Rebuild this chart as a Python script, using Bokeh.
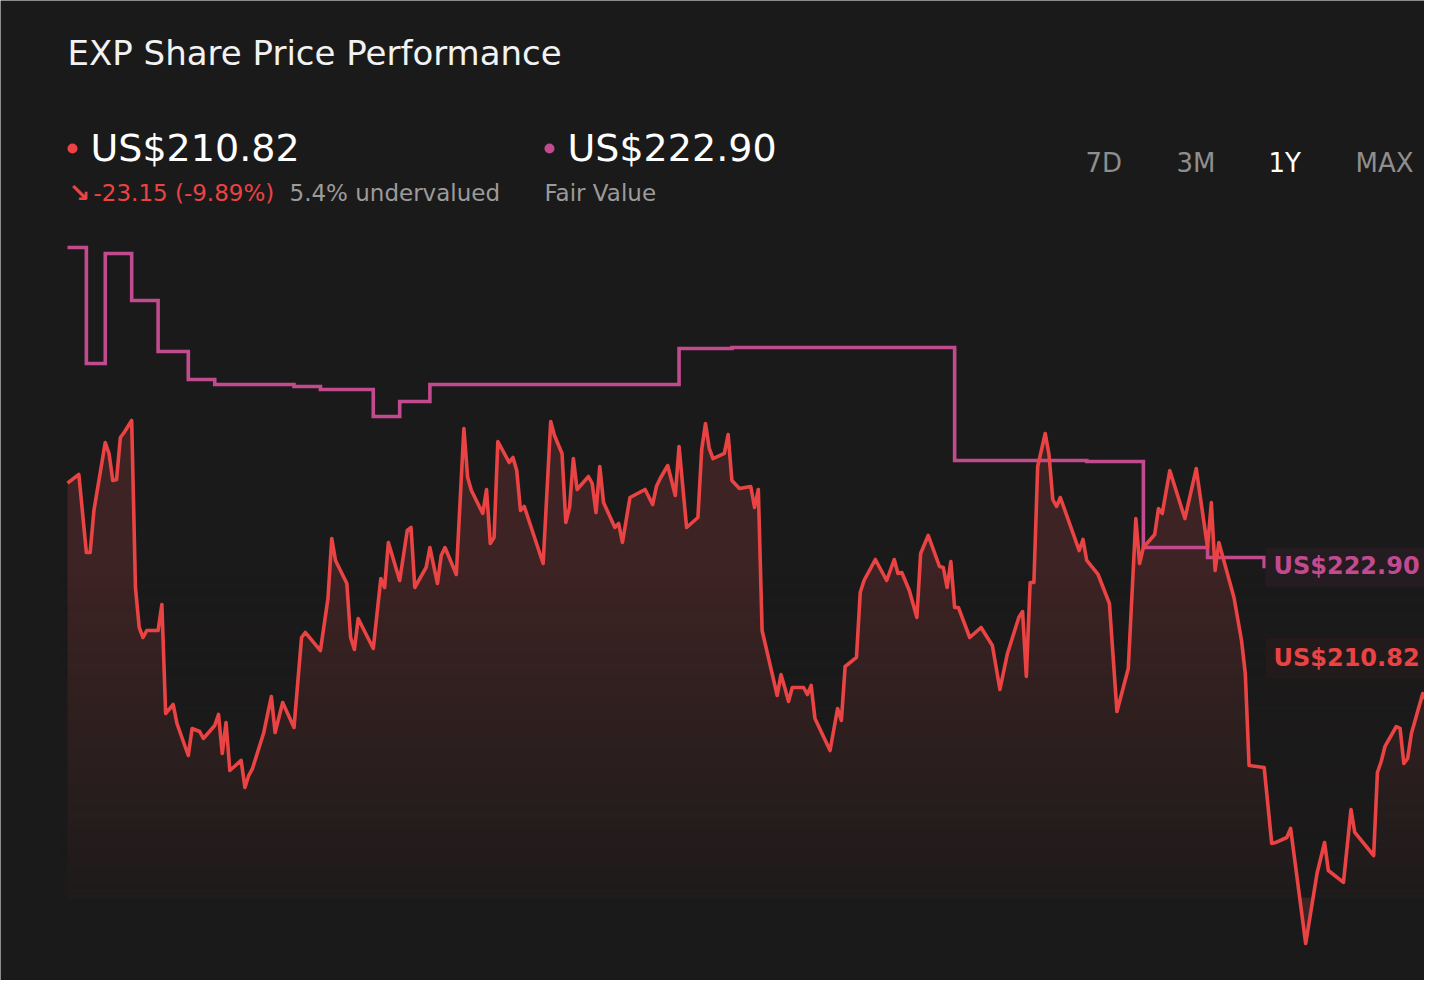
import numpy as np
from bokeh.plotting import figure
from bokeh.models import Label, Range1d
from bokeh.embed import file_html
from bokeh.resources import INLINE

# ---------------- data ----------------
price_days = [0, 3, 5, 6, 7, 10, 11, 12, 13, 14, 15, 17, 18, 19, 20, 21, 24, 25, 26, 28, 29, 32, 33, 35, 36,
              39, 40, 41, 42, 43, 46, 47, 48, 49, 52, 54, 55, 57, 60, 62, 63, 67, 69, 70, 71, 74, 75, 76, 77,
              81, 83, 84, 85, 88, 90, 91, 92, 95, 96, 98, 99, 100, 103, 105, 106, 107, 110, 111, 112, 113,
              114, 117, 118, 119, 120, 121, 126, 128, 129, 131, 132, 133, 134, 135, 138, 139, 140, 141, 142,
              145, 146, 147, 149, 150, 153, 155, 156, 157, 159, 161, 162, 164, 167, 168, 169, 170, 171, 174,
              175, 176, 178, 181, 182, 183, 184, 188, 189, 190, 191, 192, 195, 196, 197, 198, 202, 204, 205,
              206, 209, 210, 211, 214, 217, 219, 220, 221, 223, 225, 226, 228, 231, 232, 233, 234, 235, 236,
              239, 242, 245, 247, 249, 252, 253, 254, 255, 256, 257, 259, 260, 261, 262, 263, 268, 269, 270,
              273, 276, 278, 281, 283, 284, 285, 288, 289, 290, 292, 296, 299, 302, 303, 304, 305, 309, 311,
              312, 313, 317, 319, 320, 323, 324, 328, 331, 333, 334, 338, 340, 341, 346, 347, 348, 349, 352,
              353, 354, 355, 356, 359, 361, 362, 365]
price_vals = [233.97, 235.12, 224.76, 224.76, 230.34, 239.37, 237.91, 234.32, 234.45, 240.03, 240.70, 242.29,
              220.11, 214.80, 213.47, 214.40, 214.40, 217.85, 203.38, 204.57, 202.05, 197.80, 201.39, 200.99,
              200.06, 201.78, 203.25, 198.07, 202.18, 195.81, 197.14, 193.55, 195.14, 196.07, 200.86, 205.64,
              200.86, 204.84, 201.52, 213.47, 214.14, 211.74, 218.65, 226.62, 223.70, 220.64, 213.47, 211.88,
              215.99, 212.01, 221.31, 220.11, 226.09, 221.04, 227.68, 228.08, 220.11, 222.77, 225.42, 220.64,
              224.36, 225.42, 221.84, 241.23, 234.72, 232.99, 229.94, 233.13, 225.95, 226.75, 239.50, 236.71,
              237.38, 235.65, 230.34, 230.87, 223.30, 242.16, 240.30, 237.91, 228.74, 230.74, 237.24, 233.13,
              234.85, 233.92, 230.07, 236.18, 231.40, 228.08, 228.61, 226.09, 232.06, 232.33, 233.13, 231.13,
              233.52, 234.59, 236.31, 232.33, 238.84, 228.08, 229.41, 238.44, 241.89, 238.57, 237.24, 237.91,
              240.43, 234.32, 233.26, 233.52, 230.74, 233.13, 214.40, 205.77, 208.56, 206.83, 204.97, 206.83,
              206.83, 205.90, 207.10, 202.71, 198.46, 204.04, 202.45, 209.62, 210.82, 219.45, 221.04, 223.83,
              221.04, 223.83, 221.97, 222.10, 219.71, 216.13, 224.63, 227.02, 222.90, 222.77, 220.11, 223.56,
              217.46, 217.46, 213.47, 214.80, 212.41, 206.57, 211.35, 216.13, 216.92, 208.29, 220.78, 220.78,
              236.18, 240.56, 237.77, 231.80, 230.87, 232.06, 225.02, 226.49, 223.70, 221.84, 217.99, 203.64,
              209.35, 229.27, 223.30, 225.42, 227.15, 230.60, 229.94, 235.65, 229.27, 235.91, 225.42, 231.40,
              222.37, 226.09, 218.78, 213.07, 208.69, 196.47, 196.21, 186.11, 186.24, 186.91, 188.11, 172.83,
              182.13, 186.24, 182.53, 180.94, 190.63, 187.58, 184.52, 195.54, 197.00, 199.00, 201.65, 201.39,
              196.74, 197.40, 200.72, 206.03, 204.04, 208.03, 210.82]

fv_days = [0, 5, 10, 17, 24, 32, 39, 60, 67, 81, 88, 96, 162, 176, 235, 270, 285, 302, 317, 318]
fv_vals = [265.26, 249.86, 264.47, 258.22, 251.45, 247.73, 247.07, 246.80, 246.41, 242.82, 244.81, 247.07,
           251.85, 251.98, 236.98, 236.84, 225.42, 224.10, 222.90, 222.90]

last_price = "US$210.82"
fair_value = "US$222.90"
change_text = "-23.15 (-9.89%)"
valuation_text = "5.4% undervalued"
periods = ["7D", "3M", "1Y", "MAX"]
active_period = "1Y"

# ---------------- layout helpers (page pixels -> data) ----------------
W, H = 1424, 980
PX_DAY = 3.775      # px per day
X0_PX = 67          # px of day 0
PX_USD = 7.53       # px per dollar
ANCHOR_V, ANCHOR_PX = 222.90, 566


def X(xr):
    return (xr - X0_PX) / PX_DAY


def Y(yr):
    return ANCHOR_V + (ANCHOR_PX - yr) / PX_USD


BG = "#1b1a1a"
RED = "#ea4343"
FVC = "#c24a8e"
FONT = "DejaVu Sans"

p = figure(width=W, height=H, x_range=Range1d(X(0), X(W)), y_range=Range1d(Y(H), Y(0)),
           min_border=0, toolbar_location=None, output_backend="svg",
           x_axis_location=None, y_axis_location=None,
           background_fill_color=BG, border_fill_color=BG, outline_line_color=None)
p.grid.visible = False

# area under price
p.varea(x=price_days, y1=Y(897), y2=price_vals, fill_color="#3d2323", fill_alpha=1.0)

# vertical fade toward background
edges = np.linspace(575, 897, 46)
tops = edges[:-1]
bots = edges[1:]
mids = (tops + bots) / 2
alphas = np.clip((mids - 575) / 350.0, 0, 1)
p.quad(left=X(60), right=X(1450), top=[Y(t) for t in tops], bottom=[Y(b) for b in bots],
       fill_color=BG, fill_alpha=list(alphas), line_color=None)

# fair value step line
p.step(x=fv_days, y=fv_vals, mode="after", line_color=FVC, line_width=3.6, line_join="miter")

# price line
p.line(x=price_days, y=price_vals, line_color=RED, line_width=3.6, line_join="round")

# right-side value boxes
p.quad(left=X(1265), right=X(1460), top=Y(547), bottom=Y(586), fill_color="#241c21", line_color=None)
p.quad(left=X(1265), right=X(1460), top=Y(637), bottom=Y(678), fill_color="#231b1b", line_color=None)


def lab(xr, yr, text, size, color, bold=False):
    p.add_layout(Label(x=X(xr), y=Y(yr), text=text, text_font=FONT, text_font_size=f"{size}px",
                       text_color=color, text_baseline="middle", text_align="left",
                       text_font_style="bold" if bold else "normal"))


lab(67, 52, "EXP Share Price Performance", 34, "#f2f2f2")

p.scatter(x=[X(72), X(549)], y=[Y(148), Y(148)], size=10, color=[RED, FVC], line_color=None)
lab(90, 147, last_price, 38, "#ffffff")
lab(567, 147, fair_value, 38, "#ffffff")
lab(68, 192, "\u2198", 26, RED, bold=True)
lab(93, 192, change_text, 23, RED)
lab(289, 192, valuation_text, 23, "#9b9b9b")
lab(544, 192, "Fair Value", 23, "#9b9b9b")

for txt, xr in zip(periods, [1085, 1176, 1268, 1355]):
    lab(xr, 162, txt, 26, "#ffffff" if txt == active_period else "#8e8e8e")

lab(1273, 565, fair_value, 24, FVC, bold=True)
lab(1273, 657, last_price, 24, RED, bold=True)

open("out.html", "w").write(file_html(p, INLINE))
